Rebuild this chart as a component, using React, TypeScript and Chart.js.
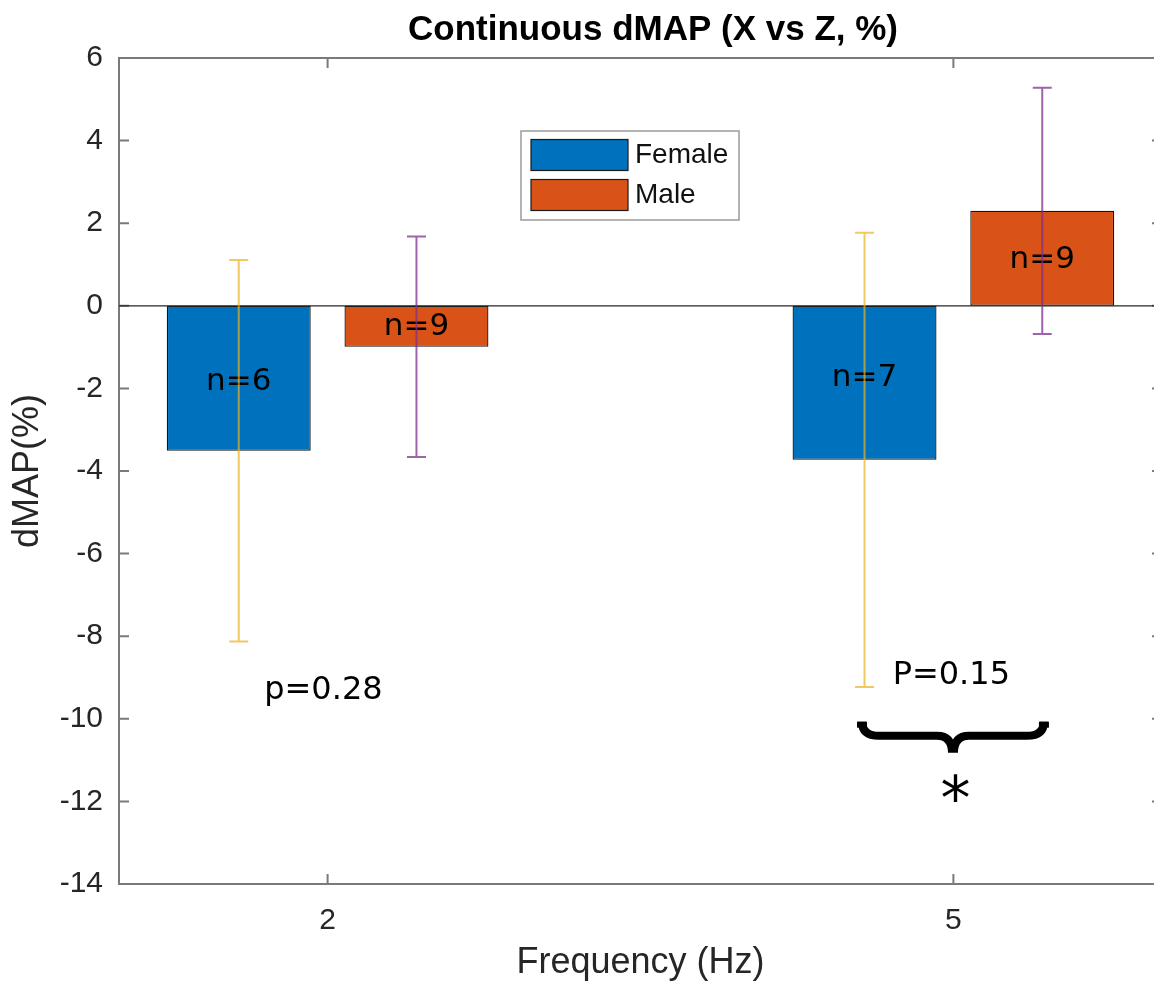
import React, { useEffect, useRef } from "react";
import { Chart, registerables } from "chart.js";

Chart.register(...registerables);

// ---- data ----
const frequencies = [2, 5];
const seriesNames = ["Female", "Male"];
const femaleMean = [-3.51, -3.73];
const maleMean = [-0.99, 2.3];
const femaleErr = [4.62, 5.5];
const maleErr = [2.67, 2.98];
const femaleCounts = ["n=6", "n=7"];
const maleCounts = ["n=9", "n=9"];
const femaleCountY = [-1.85, -1.75];
const maleCountY = [-0.51, 1.11];
const pTexts = ["p=0.28", "P=0.15"];
const pTextX = [1.98, 4.99];
const pTextY = [-9.33, -8.96];
const braceX = [4.538, 5.458];
const braceY = [-10.07, -10.41, -10.82];
const starText = "*";
const starX = 5.01;
const starY = -11.67;
const xTicks = [2, 5];
const yTicks = [6, 4, 2, 0, -2, -4, -6, -8, -10, -12, -14];
const titleText = "Continuous dMAP (X vs Z, %)";
const xTitle = "Frequency (Hz)";
const yTitle = "dMAP(%)";

const SANS = '"Liberation Sans", Arial, Helvetica, sans-serif';
const DEJAVU = '"DejaVu Sans", sans-serif';
const BLUE = "#0072BD";
const ORANGE = "#D95319";
const ERR_COLORS = ["rgba(237,177,32,0.7)", "rgba(126,47,142,0.75)"];

const overlay = {
  id: "overlay",
  beforeDatasetsDraw(chart: any) {
    const { ctx, chartArea: a, scales } = chart;
    const xs = scales.x;
    const ys = scales.y;
    ctx.save();
    ctx.strokeStyle = "#7a7a7a";
    ctx.lineWidth = 2;
    ctx.strokeRect(a.left, a.top, a.right - a.left, a.bottom - a.top);
    const tl = 10;
    ctx.beginPath();
    yTicks.forEach((v) => {
      const py = ys.getPixelForValue(v);
      ctx.moveTo(a.left, py);
      ctx.lineTo(a.left + tl, py);
      ctx.moveTo(a.right, py);
      ctx.lineTo(a.right - tl, py);
    });
    xTicks.forEach((v) => {
      const px = xs.getPixelForValue(v);
      ctx.moveTo(px, a.bottom);
      ctx.lineTo(px, a.bottom - tl);
      ctx.moveTo(px, a.top);
      ctx.lineTo(px, a.top + tl);
    });
    ctx.stroke();
    ctx.restore();
  },
  afterDatasetsDraw(chart: any) {
    const { ctx, chartArea: a, scales } = chart;
    const xs = scales.x;
    const ys = scales.y;
    ctx.save();
    // baseline
    const y0 = ys.getPixelForValue(0);
    ctx.strokeStyle = "#262626";
    ctx.lineWidth = 1.2;
    ctx.beginPath();
    ctx.moveTo(a.left, y0);
    ctx.lineTo(a.right, y0);
    ctx.stroke();

    // n labels
    const counts = [femaleCounts, maleCounts];
    const countY = [femaleCountY, maleCountY];
    ctx.fillStyle = "#000";
    ctx.font = `31px ${DEJAVU}`;
    ctx.textAlign = "center";
    ctx.textBaseline = "middle";
    [0, 1].forEach((di) => {
      const meta = chart.getDatasetMeta(di);
      meta.data.forEach((bar: any, j: number) => {
        ctx.fillText(counts[di][j], bar.x, ys.getPixelForValue(countY[di][j]));
      });
    });

    // error bars
    const means = [femaleMean, maleMean];
    const errs = [femaleErr, maleErr];
    ctx.lineWidth = 2;
    [0, 1].forEach((di) => {
      const meta = chart.getDatasetMeta(di);
      ctx.strokeStyle = ERR_COLORS[di];
      meta.data.forEach((bar: any, j: number) => {
        const top = ys.getPixelForValue(means[di][j] + errs[di][j]);
        const bot = ys.getPixelForValue(means[di][j] - errs[di][j]);
        const cw = 9.5;
        ctx.beginPath();
        ctx.moveTo(bar.x, top);
        ctx.lineTo(bar.x, bot);
        ctx.moveTo(bar.x - cw, top);
        ctx.lineTo(bar.x + cw, top);
        ctx.moveTo(bar.x - cw, bot);
        ctx.lineTo(bar.x + cw, bot);
        ctx.stroke();
      });
    });

    // p texts
    ctx.fillStyle = "#000";
    ctx.font = `32px ${DEJAVU}`;
    ctx.textAlign = "center";
    ctx.textBaseline = "middle";
    pTexts.forEach((t, i) => {
      ctx.fillText(t, xs.getPixelForValue(pTextX[i]), ys.getPixelForValue(pTextY[i]));
    });

    // brace
    const xl = xs.getPixelForValue(braceX[0]);
    const xr = xs.getPixelForValue(braceX[1]);
    const xc = (xl + xr) / 2;
    const yT = ys.getPixelForValue(braceY[0]);
    const yM = ys.getPixelForValue(braceY[1]);
    const yB = ys.getPixelForValue(braceY[2]);
    ctx.strokeStyle = "#000";
    ctx.lineWidth = 8;
    ctx.lineCap = "butt";
    ctx.lineJoin = "round";
    ctx.beginPath();
    ctx.moveTo(xl + 5, yT);
    ctx.quadraticCurveTo(xl + 5, yM, xl + 22, yM);
    ctx.lineTo(xc - 16, yM);
    ctx.quadraticCurveTo(xc - 1, yM, xc - 1, yB);
    ctx.moveTo(xr - 5, yT);
    ctx.quadraticCurveTo(xr - 5, yM, xr - 22, yM);
    ctx.lineTo(xc + 16, yM);
    ctx.quadraticCurveTo(xc + 1, yM, xc + 1, yB);
    ctx.stroke();
    // thicker end hooks
    ctx.fillStyle = "#000";
    ctx.fillRect(xl, yT, 10, 6);
    ctx.fillRect(xr - 10, yT, 10, 6);

    // star
    ctx.font = `60px ${DEJAVU}`;
    ctx.textAlign = "center";
    ctx.textBaseline = "alphabetic";
    const m = ctx.measureText(starText);
    const sx = xs.getPixelForValue(starX);
    const sy = ys.getPixelForValue(starY);
    const asc = m.actualBoundingBoxAscent;
    const desc = m.actualBoundingBoxDescent;
    ctx.fillText(starText, sx, sy + (asc - desc) / 2);
    ctx.restore();
  },
  afterDraw(chart: any) {
    const { ctx } = chart;
    ctx.save();
    // legend box
    const bx = 521, by = 131, bw = 218, bh = 89;
    ctx.fillStyle = "#fff";
    ctx.fillRect(bx, by, bw, bh);
    ctx.strokeStyle = "#9a9a9a";
    ctx.lineWidth = 1.5;
    ctx.strokeRect(bx, by, bw, bh);
    chart.data.datasets.forEach((ds: any, i: number) => {
      const py = 139.5 + i * 40;
      ctx.fillStyle = ds.backgroundColor;
      ctx.fillRect(531, py, 97, 31);
      ctx.strokeStyle = "#1a1a1a";
      ctx.lineWidth = 1.2;
      ctx.strokeRect(531, py, 97, 31);
      ctx.fillStyle = "#111";
      ctx.font = `28px ${SANS}`;
      ctx.textAlign = "left";
      ctx.textBaseline = "middle";
      ctx.fillText(ds.label, 635, py + 16);
    });
    ctx.restore();
  },
};

export default function App() {
  const ref = useRef<HTMLCanvasElement>(null);
  useEffect(() => {
    if (!ref.current) return;
    const chart = new Chart(ref.current, {
      type: "bar",
      data: {
        datasets: [
          {
            label: seriesNames[0],
            data: frequencies.map((f, i) => ({ x: f, y: femaleMean[i] })),
            backgroundColor: BLUE,
            borderColor: "#141414",
            borderWidth: 1.3,
            borderSkipped: false,
            categoryPercentage: 0.568,
            barPercentage: 0.81,
          },
          {
            label: seriesNames[1],
            data: frequencies.map((f, i) => ({ x: f, y: maleMean[i] })),
            backgroundColor: ORANGE,
            borderColor: "#141414",
            borderWidth: 1.3,
            borderSkipped: false,
            categoryPercentage: 0.568,
            barPercentage: 0.81,
          },
        ] as any,
      },
      options: {
        responsive: false,
        animation: false,
        devicePixelRatio: 1,
        layout: { padding: 0 },
        plugins: {
          legend: { display: false },
          tooltip: { enabled: false },
          title: {
            display: true,
            text: titleText,
            color: "#000",
            font: { family: SANS, size: 35, weight: "bold", lineHeight: 1.2 },
            padding: { top: 9, bottom: 7 },
          },
        },
        scales: {
          x: {
            type: "linear",
            min: 1,
            max: 6,
            offset: false,
            afterBuildTicks: (s: any) => {
              s.ticks = xTicks.map((v) => ({ value: v }));
            },
            afterFit: (s: any) => {
              s.height = 101;
            },
            grid: { display: false, drawTicks: false },
            border: { display: false },
            ticks: {
              color: "#262626",
              font: { family: SANS, size: 30 },
              padding: 19,
              callback: (v: any) => String(v),
            },
            title: {
              display: true,
              text: xTitle,
              color: "#262626",
              font: { family: SANS, size: 36, lineHeight: 1.2 },
              padding: { top: 0, bottom: 0 },
            },
          },
          y: {
            type: "linear",
            min: -14,
            max: 6,
            afterBuildTicks: (s: any) => {
              s.ticks = yTicks.map((v) => ({ value: v }));
            },
            afterFit: (s: any) => {
              s.width = 119;
            },
            grid: { display: false, drawTicks: false },
            border: { display: false },
            ticks: {
              color: "#262626",
              font: { family: SANS, size: 30 },
              padding: 16,
              callback: (v: any) => String(v),
            },
            title: {
              display: true,
              text: yTitle,
              color: "#262626",
              font: { family: SANS, size: 36, lineHeight: 1.2 },
              padding: { top: 6.4, bottom: 0 },
            },
          },
          y2: {
            type: "linear",
            position: "right",
            display: true,
            afterFit: (s: any) => {
              s.width = 144;
            },
            grid: { display: false, drawTicks: false },
            border: { display: false },
            ticks: { display: false },
          },
        },
      } as any,
      plugins: [overlay],
    });
    return () => chart.destroy();
  }, []);

  return (
    <div
      style={{
        position: "fixed",
        left: 0,
        top: 0,
        width: 1154,
        height: 985,
        overflow: "hidden",
        background: "#fff",
      }}
    >
      <canvas ref={ref} width={1306} height={985} style={{ display: "block" }} />
    </div>
  );
}
